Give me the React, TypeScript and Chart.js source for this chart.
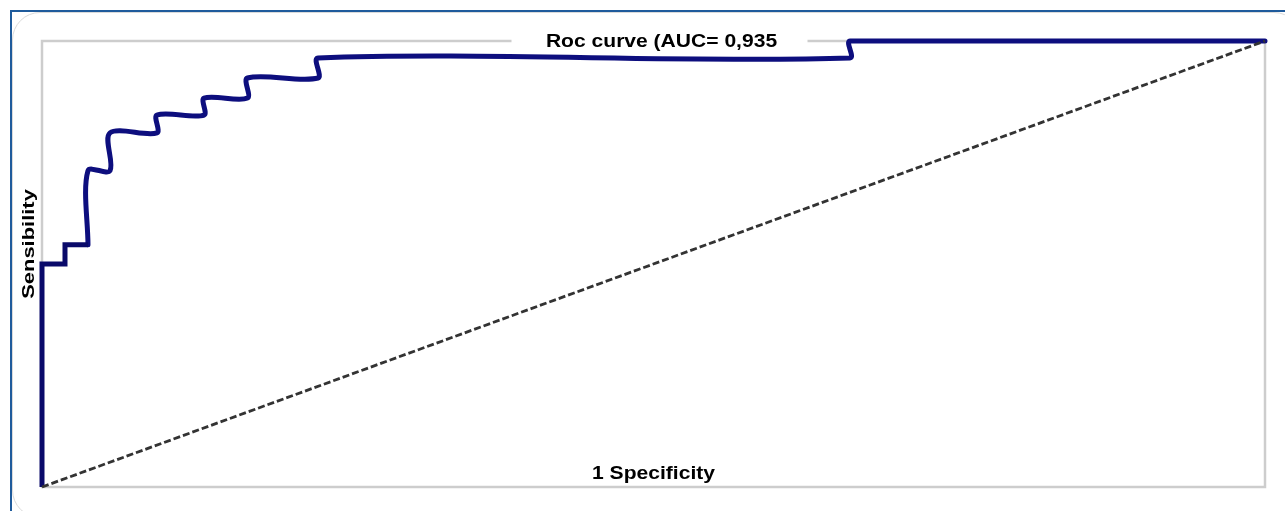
import React, { useEffect, useRef } from "react";
import { Chart, registerables } from "chart.js";

Chart.register(...registerables);

// ROC curve points (1 - specificity, sensitivity)
const rocStartX = [0, 0, 0.0188, 0.0188, 0.0376];
const rocStartY = [0, 0.5, 0.5, 0.543, 0.543];
const rocX = [0.0376, 0.0376, 0.0556, 0.0556, 0.094, 0.094, 0.1325, 0.1325, 0.168, 0.168, 0.2257, 0.2257, 0.6607, 0.6607, 1];
const rocY = [0.543, 0.709, 0.709, 0.794, 0.794, 0.834, 0.834, 0.872, 0.872, 0.917, 0.917, 0.962, 0.962, 1, 1];
const diagX = [0, 1];
const diagY = [0, 1];

const titleText = "Roc curve (AUC= 0,935";
const xLabel = "1 Specificity";
const yLabel = "Sensibility";

const FONT = '"Liberation Sans", Arial, sans-serif';

const overlay = {
  id: "overlay",
  beforeDatasetsDraw(chart: any) {
    const { ctx, chartArea: ca } = chart;
    ctx.save();
    ctx.strokeStyle = "#cdcdcd";
    ctx.lineWidth = 2.5;
    ctx.strokeRect(ca.left, ca.top, ca.right - ca.left, ca.bottom - ca.top);
    ctx.restore();
  },
  afterDatasetsDraw(chart: any) {
    const { ctx, chartArea: ca } = chart;
    const cx = (ca.left + ca.right) / 2;
    ctx.save();
    ctx.fillStyle = "#ffffff";
    ctx.fillRect(cx - 142, ca.top - 6, 296, 12);
    ctx.fillStyle = "#000000";
    ctx.font = `bold 18px ${FONT}`;
    ctx.textAlign = "center";
    ctx.textBaseline = "alphabetic";
    ctx.save();
    ctx.translate(cx + 8, ca.top + 6);
    ctx.scale(1.17, 1);
    ctx.fillText(titleText, 0, 0);
    ctx.restore();
    ctx.save();
    ctx.translate(cx, ca.bottom - 8);
    ctx.scale(1.17, 1);
    ctx.fillText(xLabel, 0, 0);
    ctx.restore();
    ctx.save();
    ctx.font = `bold 17px ${FONT}`;
    ctx.translate(ca.left - 8, 244);
    ctx.rotate(-Math.PI / 2);
    ctx.scale(1.29, 1);
    ctx.fillText(yLabel, 0, 0);
    ctx.restore();
    ctx.restore();
  },
};

export default function App() {
  const ref = useRef<HTMLCanvasElement>(null);
  useEffect(() => {
    if (!ref.current) return;
    const pts = (xs: number[], ys: number[]) => xs.map((x, i) => ({ x, y: ys[i] }));
    const chart = new Chart(ref.current, {
      type: "line",
      data: {
        datasets: [
          {
            data: pts(diagX, diagY),
            borderColor: "#333333",
            borderWidth: 2.8,
            borderDash: [7, 3],
            pointRadius: 0,
            tension: 0,
            clip: 6,
          } as any,
          {
            data: pts(rocStartX, rocStartY),
            borderColor: "#0a0a6a",
            borderWidth: 5,
            pointRadius: 0,
            tension: 0,
            clip: 6,
          } as any,
          {
            data: pts(rocX, rocY),
            borderColor: "#0d0e7e",
            borderWidth: 5,
            pointRadius: 0,
            tension: 0.32,
            borderCapStyle: "round",
            borderJoinStyle: "round",
            clip: 6,
          } as any,
        ],
      },
      options: {
        animation: false,
        responsive: false,
        devicePixelRatio: 1,
        layout: { padding: { left: 42, top: 41, right: 20, bottom: 24 } },
        scales: {
          x: { type: "linear", min: 0, max: 1, display: false },
          y: { type: "linear", min: 0, max: 1, display: false },
        },
        plugins: {
          legend: { display: false },
          tooltip: { enabled: false },
          title: { display: false },
        },
      },
      plugins: [overlay],
    });
    return () => chart.destroy();
  }, []);

  return (
    <div style={{ position: "absolute", left: 0, top: 0, width: 1285, height: 511, overflow: "hidden", background: "#fff" }}>
      <div
        style={{
          position: "absolute",
          left: 9.5,
          top: 9.5,
          width: 1400,
          height: 600,
          borderLeft: "2.5px solid #1f5b9c",
          borderTop: "2.5px solid #1f5b9c",
          boxSizing: "border-box",
        }}
      />
      <div
        style={{
          position: "absolute",
          left: 12,
          top: 12,
          width: 1290,
          height: 506,
          border: "1.5px solid #dadada",
          borderRadius: 28,
          boxSizing: "border-box",
        }}
      />
      <canvas ref={ref} width={1285} height={511} style={{ position: "absolute", left: 0, top: 0, width: 1285, height: 511 }} />
    </div>
  );
}
